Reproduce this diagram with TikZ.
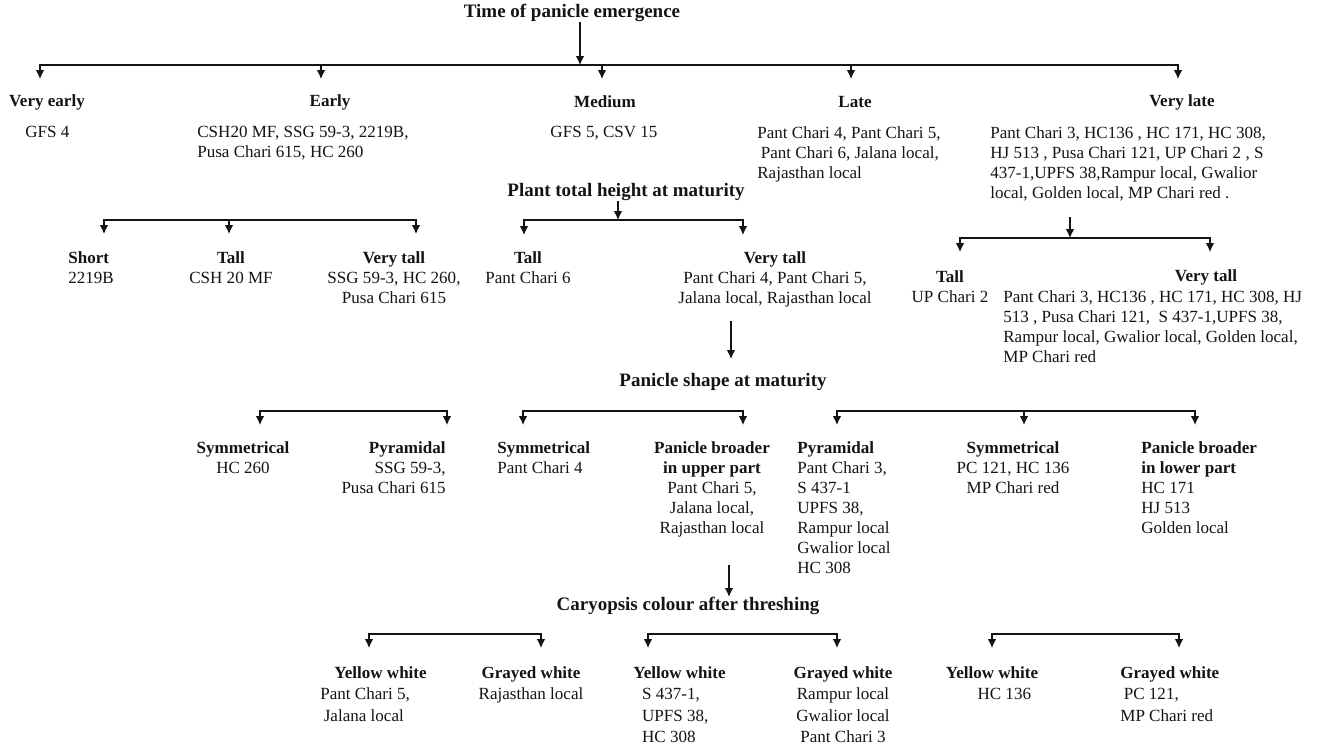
\documentclass[tikz,border=0pt]{standalone}
\usepackage{fontspec}
\setmainfont{Liberation Serif}
\usetikzlibrary{positioning, arrows.meta}
\definecolor{InkDark}{HTML}{141414}

\begin{document}
\begin{tikzpicture}[x=0.02cm, y=-0.02cm, every node/.style={text=InkDark},
    sect/.style={font=\bfseries\fontsize{10.8}{13}\selectfont, inner sep=0pt},
    grp/.style={font=\bfseries\fontsize{9.7}{11.4}\selectfont, inner sep=0pt},
    vals/.style={font=\fontsize{9.7}{11.4}\selectfont, inner sep=0pt, anchor=north},
    leaf/.style={font=\fontsize{9.7}{11.4}\selectfont, inner sep=0pt, align=center, anchor=north},
    rail/.style={draw=InkDark, line width=0.9pt, line cap=rect},
    drop/.style={draw=InkDark, line width=0.7pt, -{Latex[length=5pt,width=4.8pt]}}]
  \useasboundingbox[fill=white] (0,0) rectangle (1320,749);

  % time of panicle emergence
  \node[sect] (emerg) at (572,13) {Time of panicle emergence};
  \coordinate (emIn) at (580,65);
  \draw[drop] (emerg.south -| emIn) -- (emIn);
  \foreach \n/\x in {1/40,2/321,3/602,4/851,5/1178} {
    \coordinate (eb\n) at (\x,65); \coordinate (et\n) at (\x,79);}
  \draw[rail] (eb1) -- (eb5);
  \foreach \n in {1,...,5} \draw[drop] (eb\n) -- (et\n);

  \node[grp] (vearly) at (47,102) {Very early};
  \node[grp] (early) at (330,102) {Early};
  \node[grp] (medium) at (605,102) {Medium};
  \node[grp] (late) at (855,102) {Late};
  \node[grp] (vlate) at (1182,102) {Very late};

  \node[vals, anchor=north west] (vearlyV) at (25,126) {GFS 4};
  \node[vals, anchor=north west, align=left] (earlyV) at (197,126)
    {CSH20 MF, SSG 59-3, 2219B,\\Pusa Chari 615, HC 260};
  \node[vals] (mediumV) at (604,126) {GFS 5, CSV 15};
  \node[vals, anchor=north west, align=left] (lateV) at (757,126)
    {Pant Chari 4, Pant Chari 5,\\\hspace*{2pt}Pant Chari 6, Jalana local,\\Rajasthan local};
  \node[vals, anchor=north west, align=left] (vlateV) at (990,126)
    {Pant Chari 3, HC136 , HC 171, HC 308,\\HJ 513 , Pusa Chari 121, UP Chari 2 , S\\
     437-1,UPFS 38,Rampur local, Gwalior\\local, Golden local, MP Chari red .};

  % plant height, early types
  \foreach \n/\x in {1/104,2/229,3/416} {
    \coordinate (kb\n) at (\x,220); \coordinate (kt\n) at (\x,234);}
  \draw[rail] (kb1) -- (kb3);
  \foreach \n in {1,2,3} \draw[drop] (kb\n) -- (kt\n);
  \node[leaf, anchor=north west, align=left] (ehShort) at (68,251) {\textbf{Short}\\2219B};
  \node[leaf] (ehTall) at (231,251) {\textbf{Tall}\\CSH 20 MF};
  \node[leaf] (ehVtall) at (394,251) {\textbf{Very tall}\\SSG 59-3, HC 260,\\Pusa Chari 615};

  % plant total height at maturity
  \node[sect] (height) at (626,192) {Plant total height at maturity};
  \coordinate (htIn) at (618,220);
  \draw[drop] (height.south -| htIn) -- (htIn);
  \foreach \n/\x in {1/524,2/743} {
    \coordinate (hb\n) at (\x,220); \coordinate (ht\n) at (\x,235);}
  \draw[rail] (hb1) -- (hb2);
  \foreach \n in {1,2} \draw[drop] (hb\n) -- (ht\n);
  \node[leaf] (htTall) at (528,251) {\textbf{Tall}\\Pant Chari 6};
  \node[leaf] (htVtall) at (775,251)
    {\textbf{Very tall}\\Pant Chari 4, Pant Chari 5,\\Jalana local, Rajasthan local};

  % plant height, very late types
  \coordinate (vhIn) at (1070,238);
  \draw[drop, shorten <=9pt] (vlateV.south -| vhIn) -- (vhIn);
  \foreach \n/\x in {1/960,2/1210} {
    \coordinate (vb\n) at (\x,238); \coordinate (vt\n) at (\x,252);}
  \draw[rail] (vb1) -- (vb2);
  \foreach \n in {1,2} \draw[drop] (vb\n) -- (vt\n);
  \node[leaf] (vhTall) at (950,270) {\textbf{Tall}\\UP Chari 2};
  \node[grp] (vhVtall) at (1206,277) {Very tall};
  \node[vals, anchor=north west, align=left] (vhVtallV) at (1003,290)
    {Pant Chari 3, HC136 , HC 171, HC 308,\ HJ\\513 , Pusa Chari 121,\ \ S 437-1,UPFS 38,\\
     Rampur local, Gwalior local, Golden local,\\MP Chari red};

  % panicle shape at maturity
  \node[sect] (shape) at (723,382) {Panicle shape at maturity};
  \coordinate (shX) at (731,0);
  \draw[drop, shorten <=8pt, shorten >=8pt] (htVtall.south -| shX) -- (shape.north -| shX);
  \foreach \n/\x in {1/260,2/447,3/523,4/743,5/837,6/1024,7/1195} {
    \coordinate (pb\n) at (\x,411); \coordinate (pt\n) at (\x,425);}
  \draw[rail] (pb1) -- (pb2);
  \draw[rail] (pb3) -- (pb4);
  \draw[rail] (pb5) -- (pb7);
  \foreach \n in {1,...,7} \draw[drop] (pb\n) -- (pt\n);

  \node[leaf] (lSym) at (243,441) {\textbf{Symmetrical}\\HC 260};
  \node[leaf, anchor=north east, align=right] (lPyr) at (446,441)
    {\textbf{Pyramidal}\\SSG 59-3,\\Pusa Chari 615};
  \node[leaf, anchor=north west, align=left] (mSym) at (497,441) {\textbf{Symmetrical}\\Pant Chari 4};
  \node[leaf] (mUpper) at (712,441)
    {\textbf{Panicle broader}\\\textbf{in upper part}\\Pant Chari 5,\\Jalana local,\\Rajasthan local};
  \node[leaf, anchor=north west, align=left] (rPyr) at (797,441)
    {\textbf{Pyramidal}\\Pant Chari 3,\\S 437-1\\UPFS 38,\\Rampur local\\Gwalior local\\HC 308};
  \node[leaf] (rSym) at (1013,441) {\textbf{Symmetrical}\\PC 121, HC 136\\MP Chari red};
  \node[leaf, anchor=north west, align=left] (rLower) at (1141,441)
    {\textbf{Panicle broader}\\\textbf{in lower part}\\HC 171\\HJ 513\\Golden local};

  % caryopsis colour after threshing
  \node[sect] (caryo) at (688,606) {Caryopsis colour after threshing};
  \coordinate (cyX) at (729,0);
  \draw[drop, shorten <=16pt] (mUpper.south -| cyX) -- (caryo.north -| cyX);
  \foreach \n/\x in {1/369,2/541,3/648,4/837,5/992,6/1179} {
    \coordinate (cb\n) at (\x,634); \coordinate (ct\n) at (\x,648);}
  \draw[rail] (cb1) -- (cb2);
  \draw[rail] (cb3) -- (cb4);
  \draw[rail] (cb5) -- (cb6);
  \foreach \n in {1,...,6} \draw[drop] (cb\n) -- (ct\n);

  \tikzset{leaf/.append style={font=\fontsize{9.7}{12.2}\selectfont}}
  \node[leaf, anchor=north west, align=left] (c1) at (320,666)
    {\hspace*{8pt}\textbf{Yellow white}\\Pant Chari 5,\\\hspace*{2pt}Jalana local};
  \node[leaf] (c2) at (531,666) {\textbf{Grayed white}\\Rajasthan local};
  \node[leaf, anchor=north west, align=left] (c3) at (633,666)
    {\textbf{Yellow white}\\\hspace*{5pt}S 437-1,\\\hspace*{5pt}UPFS 38,\\\hspace*{5pt}HC 308};
  \node[leaf] (c4) at (843,666) {\textbf{Grayed white}\\Rampur local\\Gwalior local\\Pant Chari 3};
  \node[leaf] (c5) at (992,666) {\textbf{Yellow white}\\\hspace*{14pt}HC 136};
  \node[leaf, anchor=north west, align=left] (c6) at (1120,666)
    {\textbf{Grayed white}\\\hspace*{2pt}PC 121,\\MP Chari red};
\end{tikzpicture}
\end{document}
